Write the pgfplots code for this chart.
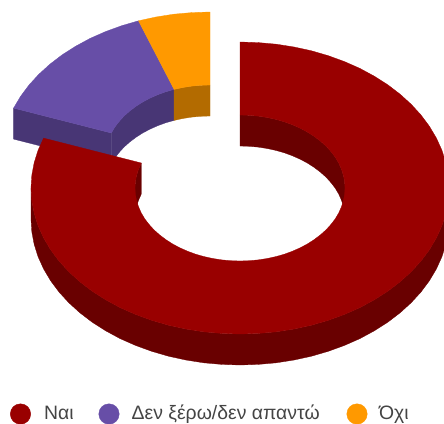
\documentclass[border=0pt]{standalone}
\usepackage{pgfplots}
\pgfplotsset{compat=1.18}
\usepackage{fontspec}
\setmainfont{Liberation Sans}
\definecolor{redtop}{HTML}{990000}
\definecolor{redside}{HTML}{690000}
\definecolor{purpletop}{HTML}{674EA7}
\definecolor{purpleside}{HTML}{483675}
\definecolor{orangetop}{HTML}{FF9900}
\definecolor{orangeside}{HTML}{B36B00}
\definecolor{legendtext}{HTML}{444444}
\tikzset{
  legendlabel/.style={anchor=base west, inner sep=0pt, text=legendtext, font=\fontsize{19.4}{21}\selectfont},
  slice/.style={line width=0.3pt, line join=round},
}
\begin{document}
\begin{tikzpicture}
\begin{axis}[
  name=chart,
  scale only axis, width=444pt, height=423pt,
  xmin=0, xmax=444, ymin=0, ymax=423, y dir=reverse,
  hide axis, clip=true,
]
% Detached slices: 5 and 2 answers of 36
\addplot[slice, fill=purpleside, draw=purpleside] coordinates {
 (13.6,108.1) (111.3,133) (111.3,164) (13.6,139.1)} -- cycle;
\addplot[slice, fill=purpleside, draw=purpleside] coordinates {
 (111.3,133) (114.8,127.1) (119.1,121.5) (124,116.1) (129.6,111.1) (135.8,106.4) (142.5,102.1) (149.8,98.2) (157.5,94.8) (165.6,91.8) (174.1,89.4)
 (174.1,120.4) (165.6,122.8) (157.5,125.8) (149.8,129.2) (142.5,133.1) (135.8,137.4) (129.6,142.1) (124,147.1) (119.1,152.5) (114.8,158.1) (111.3,164)} -- cycle;
\addplot[slice, fill=orangeside, draw=orangeside] coordinates {
 (174.1,89.4) (182.8,87.5) (191.8,86.1) (200.8,85.3) (210,85)
 (210,116) (200.8,116.3) (191.8,117.1) (182.8,118.5) (174.1,120.4)} -- cycle;
\addplot[slice, fill=purpletop, draw=purpletop] coordinates {
 (13.6,108.1) (20.6,96.3) (29,85) (38.8,74.3) (49.9,64.2) (62.2,54.8) (75.7,46.2) (90.1,38.4) (105.5,31.6) (121.7,25.7) (138.5,20.8)
 (174.1,89.4) (165.6,91.8) (157.5,94.8) (149.8,98.2) (142.5,102.1) (135.8,106.4) (129.6,111.1) (124,116.1) (119.1,121.5) (114.8,127.1) (111.3,133)} -- cycle;
\addplot[slice, fill=orangetop, draw=orangetop] coordinates {
 (138.5,20.8) (155.9,17) (173.7,14.2) (191.8,12.6) (210,12)
 (210,85) (200.8,85.3) (191.8,86.1) (182.8,87.5) (174.1,89.4)} -- cycle;
% Main slice: 29 answers of 36, inner walls first
\addplot[slice, fill=redside, draw=redside] coordinates {
 (240,115) (249.2,115.3) (258.2,116.1) (267.2,117.5) (275.9,119.4) (284.4,121.8) (292.5,124.8) (300.2,128.2) (307.5,132.1) (314.2,136.4) (320.4,141.1) (326,146.1) (330.9,151.5) (335.2,157.1) (338.7,163) (341.4,169.1) (343.4,175.3) (344.6,181.6) (345,188)
 (345,219) (344.6,212.6) (343.4,206.3) (341.4,200.1) (338.7,194) (335.2,188.1) (330.9,182.5) (326,177.1) (320.4,172.1) (314.2,167.4) (307.5,163.1) (300.2,159.2) (292.5,155.8) (284.4,152.8) (275.9,150.4) (267.2,148.5) (258.2,147.1) (249.2,146.3) (240,146)} -- cycle;
\addplot[slice, fill=redside, draw=redside] coordinates {
 (135,188) (135.4,181.6) (136.6,175.3) (138.6,169.1) (141.3,163)
 (141.3,194) (138.6,200.1) (136.6,206.3) (135.4,212.6) (135,219)} -- cycle;
% Outer wall of the main slice
\addplot[slice, fill=redside, draw=redside] coordinates {
 (449,188) (448.2,200.7) (445.8,213.4) (441.9,225.8) (436.4,237.9) (429.4,249.7) (421,261) (411.2,271.7) (400.1,281.8) (387.8,291.2) (374.3,299.8) (359.9,307.6) (344.5,314.4) (328.3,320.3) (311.5,325.2) (294.1,329) (276.3,331.8) (258.2,333.4) (240,334) (221.8,333.4) (203.7,331.8) (185.9,329) (168.5,325.2) (151.7,320.3) (135.5,314.4) (120.1,307.6) (105.7,299.8) (92.2,291.2) (79.9,281.8) (68.8,271.7) (59,261) (50.6,249.7) (43.6,237.9) (38.1,225.8) (34.2,213.4) (31.8,200.7) (31,188)
 (31,219) (31.8,231.7) (34.2,244.4) (38.1,256.8) (43.6,268.9) (50.6,280.7) (59,292) (68.8,302.7) (79.9,312.8) (92.2,322.2) (105.7,330.8) (120.1,338.6) (135.5,345.4) (151.7,351.3) (168.5,356.2) (185.9,360) (203.7,362.8) (221.8,364.4) (240,365) (258.2,364.4) (276.3,362.8) (294.1,360) (311.5,356.2) (328.3,351.3) (344.5,345.4) (359.9,338.6) (374.3,330.8) (387.8,322.2) (400.1,312.8) (411.2,302.7) (421,292) (429.4,280.7) (436.4,268.9) (441.9,256.8) (445.8,244.4) (448.2,231.7) (449,219)} -- cycle;
% Top face of the main slice
\addplot[slice, fill=redtop, draw=redtop] coordinates {
 (240,42) (258.2,42.6) (276.3,44.2) (294.1,47) (311.5,50.8) (328.3,55.7) (344.5,61.6) (359.9,68.4) (374.3,76.2) (387.8,84.8) (400.1,94.2) (411.2,104.3) (421,115) (429.4,126.3) (436.4,138.1) (441.9,150.2) (445.8,162.6) (448.2,175.3) (449,188) (448.2,200.7) (445.8,213.4) (441.9,225.8) (436.4,237.9) (429.4,249.7) (421,261) (411.2,271.7) (400.1,281.8) (387.8,291.2) (374.3,299.8) (359.9,307.6) (344.5,314.4) (328.3,320.3) (311.5,325.2) (294.1,329) (276.3,331.8) (258.2,333.4) (240,334) (221.8,333.4) (203.7,331.8) (185.9,329) (168.5,325.2) (151.7,320.3) (135.5,314.4) (120.1,307.6) (105.7,299.8) (92.2,291.2) (79.9,281.8) (68.8,271.7) (59,261) (50.6,249.7) (43.6,237.9) (38.1,225.8) (34.2,213.4) (31.8,200.7) (31,188) (31.8,175.3) (34.2,162.6) (38.1,150.2) (43.6,138.1)
 (141.3,163) (138.6,169.1) (136.6,175.3) (135.4,181.6) (135,188) (135.4,194.4) (136.6,200.7) (138.6,206.9) (141.3,213) (144.8,218.9) (149.1,224.5) (154,229.9) (159.6,234.9) (165.8,239.6) (172.5,243.9) (179.8,247.8) (187.5,251.2) (195.6,254.2) (204.1,256.6) (212.8,258.5) (221.8,259.9) (230.8,260.7) (240,261) (249.2,260.7) (258.2,259.9) (267.2,258.5) (275.9,256.6) (284.4,254.2) (292.5,251.2) (300.2,247.8) (307.5,243.9) (314.2,239.6) (320.4,234.9) (326,229.9) (330.9,224.5) (335.2,218.9) (338.7,213) (341.4,206.9) (343.4,200.7) (344.6,194.4) (345,188) (344.6,181.6) (343.4,175.3) (341.4,169.1) (338.7,163) (335.2,157.1) (330.9,151.5) (326,146.1) (320.4,141.1) (314.2,136.4) (307.5,132.1) (300.2,128.2) (292.5,124.8) (284.4,121.8) (275.9,119.4) (267.2,117.5) (258.2,116.1) (249.2,115.3) (240,115)} -- cycle;
% Legend
\addplot[only marks, mark=*, mark size=10.2pt, color=redtop] coordinates {(20.5,414)};
\addplot[only marks, mark=*, mark size=10.2pt, color=purpletop] coordinates {(109,414)};
\addplot[only marks, mark=*, mark size=10.2pt, color=orangetop] coordinates {(357,414)};
\node[legendlabel] at (axis cs:44,419) {Ναι};
\node[legendlabel] at (axis cs:131.5,419) {Δεν ξέρω/δεν απαντώ};
\node[legendlabel] at (axis cs:379,419) {Όχι};
\end{axis}
% The page is exactly the frame of the axis
\pgfresetboundingbox
\useasboundingbox (chart.south west) rectangle (chart.north east);
\end{tikzpicture}
\end{document}
